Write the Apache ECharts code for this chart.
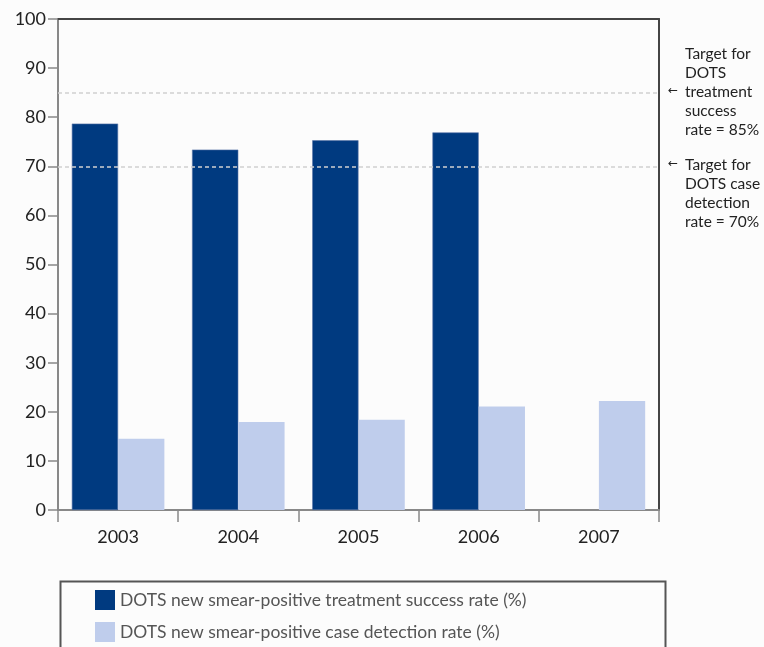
<!DOCTYPE html>
<html>
<head>
<meta charset="utf-8">
<script src="https://cdn.jsdelivr.net/npm/echarts@6/dist/echarts.min.js"></script>
<style>
html,body{margin:0;padding:0;background:#fcfcfc;}
#chart{width:764px;height:647px;}
</style>
</head>
<body>
<div id="chart"></div>
<script>
const categories = ['2003', '2004', '2005', '2006', '2007'];
const treatmentSuccess = [78.7, 73.4, 75.3, 76.9, null];
const caseDetection = [14.5, 17.9, 18.4, 21.1, 22.2];
const seriesNames = [
  'DOTS new smear-positive treatment success rate (%)',
  'DOTS new smear-positive case detection rate (%)'
];
const targetValues = [85, 70];
const targetNotesAbove = [['Target for', 'DOTS'], []];
const targetNotesLine = ['treatment', 'Target for'];
const targetNotesBelow = [['success', 'rate = 85%'], ['DOTS case', 'detection', 'rate = 70%']];

const FONT = 'Lato, "Open Sans", sans-serif';
const DARK = '#003a80';
const LIGHT = '#bfcdec';

const chart = echarts.init(document.getElementById('chart'));
const option = {
  backgroundColor: '#fcfcfc',
  animation: false,
  textStyle: { fontFamily: FONT },
  grid: { left: 58, right: 105, top: 19, bottom: 137 },
  legend: {
    orient: 'vertical',
    left: 95,
    top: 590,
    padding: 0,
    itemWidth: 20,
    itemHeight: 20,
    itemGap: 12,
    icon: 'rect',
    itemStyle: { borderWidth: 0 },
    textStyle: { fontFamily: FONT, fontSize: 17.5, color: '#555' },
    data: seriesNames
  },
  xAxis: [{
    type: 'category',
    data: categories,
    boundaryGap: true,
    axisLine: { onZero: false, lineStyle: { color: '#888', width: 2 } },
    axisTick: { show: true, length: 12, alignWithLabel: false, lineStyle: { color: '#888', width: 1.5 } },
    axisLabel: { fontFamily: FONT, fontSize: 18, color: '#222', margin: 18 }
  }, {
    type: 'category',
    data: categories,
    position: 'top',
    axisLine: { onZero: false, lineStyle: { color: '#444', width: 2 } },
    axisTick: { show: false },
    axisLabel: { show: false }
  }],
  yAxis: [{
    type: 'value',
    min: 0,
    max: 100,
    interval: 10,
    splitLine: { show: false },
    axisLine: { show: true, onZero: false, lineStyle: { color: '#888', width: 2 } },
    axisTick: { show: true, length: 10, lineStyle: { color: '#888', width: 1.5 } },
    axisLabel: { fontFamily: FONT, fontSize: 18, color: '#222', margin: 12 }
  }, {
    type: 'value',
    min: 0,
    max: 100,
    interval: 10,
    position: 'right',
    splitLine: { show: false },
    axisLine: { show: true, onZero: false, lineStyle: { color: '#444', width: 2 } },
    axisTick: { show: false },
    axisLabel: { show: false }
  }],
  series: [{
    name: seriesNames[0],
    type: 'bar',
    data: treatmentSuccess,
    barGap: '0%',
    barCategoryGap: '23%',
    itemStyle: { color: DARK, borderColor: '#5a76a8', borderWidth: 0.6 },
    markLine: {
      silent: true,
      symbol: ['none', 'none'],
      label: { show: false },
      lineStyle: { color: '#cfcfcf', type: [4, 3], width: 1.5 },
      data: targetValues.map(v => ({ yAxis: v }))
    },
    z: 2
  }, {
    name: seriesNames[1],
    type: 'bar',
    data: caseDetection,
    barGap: '0%',
    barCategoryGap: '23%',
    itemStyle: { color: LIGHT },
    z: 2
  }]
};
chart.setOption(option);

const LH = 19;
const graphics = [];
targetValues.forEach((v, i) => {
  const y = chart.convertToPixel({ yAxisIndex: 0 }, v);
  graphics.push({
    type: 'text', left: 668, top: y - 8,
    style: { text: '←', fontFamily: 'DejaVu Sans', fontSize: 12, fill: '#222' }
  });
  const lines = targetNotesAbove[i].concat([targetNotesLine[i]]).concat(targetNotesBelow[i]);
  const startY = y - LH * targetNotesAbove[i].length;
  lines.forEach((t, k) => {
    graphics.push({
      type: 'text', left: 685, top: startY + LH * k - 9,
      style: { text: t, fontFamily: FONT, fontSize: 15.5, fill: '#222' }
    });
  });
});
graphics.push({
  type: 'rect', left: 58, top: 579,
  shape: { x: 0, y: 0, width: 605, height: 100 },
  style: { fill: 'none', stroke: '#555', lineWidth: 2 },
  z: -1
});
chart.setOption({ graphic: graphics });
</script>
</body>
</html>
